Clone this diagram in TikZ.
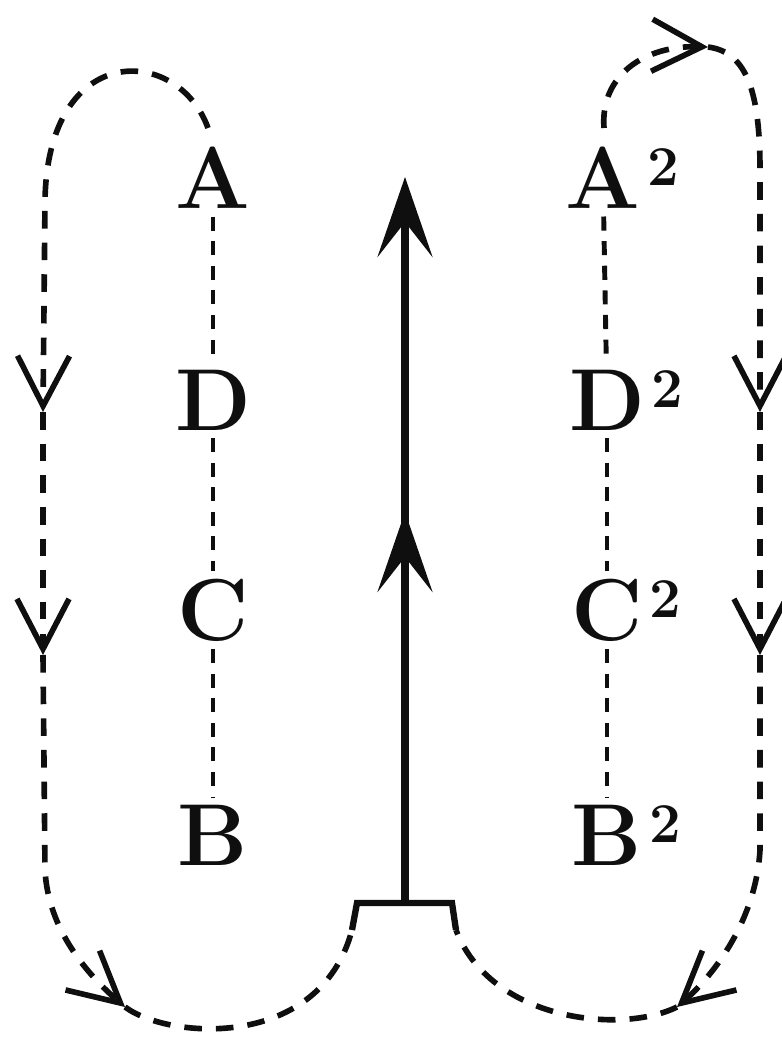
\documentclass[tikz,border=0pt]{standalone}
\usepackage{tikz}
\usetikzlibrary{arrows.meta}
\definecolor{inkBlack}{RGB}{15,15,15}
\tikzset{
    letter/.style={font=\fontsize{25}{30}\selectfont\bfseries, text=inkBlack, inner sep=2pt},
    chain/.style={draw=inkBlack, line width=1.4pt, dash pattern=on 4pt off 3pt},
    circuit/.style={draw=inkBlack, line width=1.6pt, dash pattern=on 5pt off 4pt},
    barb/.style={circuit, -{Straight Barb[length=5mm, width=5.2mm]}},
    shaft/.style={draw=inkBlack, line width=2pt, -{Stealth[length=8mm, width=5.5mm, inset=3.5mm]}},
    stand/.style={draw=inkBlack, line width=1.8pt}
}
\newcommand{\sqmark}{\rlap{\hspace{2pt}\raisebox{6.5pt}{\fontsize{16}{18}\selectfont\bfseries 2}}}

\begin{document}
\begin{tikzpicture}[x=0.01cm, y=-0.01cm]
  \useasboundingbox (0,0) rectangle (782,1042);

  % Left chain
  \node[letter] (la) at (213,178) {A};
  \node[letter] (ld) at (213,400) {D};
  \node[letter] (lc) at (213,610) {C};
  \node[letter] (lb) at (213,835) {B};
  \draw[chain] (la) -- (ld);
  \draw[chain] (ld) -- (lc);
  \draw[chain] (lc) -- (lb);

  % Right chain
  \node[letter] (ra) at (603,178) {A\sqmark};
  \node[letter] (rd) at (607,400) {D\sqmark};
  \node[letter] (rc) at (607,610) {C\sqmark};
  \node[letter] (rb) at (607,835) {B\sqmark};
  \draw[chain] (ra) -- (rd);
  \draw[chain] (rd) -- (rc);
  \draw[chain] (rc) -- (rb);

  % Stand and central arrow
  \coordinate (bl) at (352,930);
  \coordinate (blt) at (357,903);
  \coordinate (brt) at (452,903);
  \coordinate (br) at (456,930);
  \coordinate (stem) at (405,903);
  \coordinate (mid) at (405,512);
  \coordinate (top) at (405,177);
  \draw[stand] (bl) -- (blt) -- (brt) -- (br);
  \draw[shaft] (stem) -- (top);
  \draw[shaft] (stem) -- (mid);

  % Left loop
  \coordinate (l0) at (208,128);
  \coordinate (l1) at (43,412);
  \coordinate (l2) at (43,655);
  \coordinate (l3) at (125,1007);
  \draw[barb] (l0) .. controls (178,45) and (48,40) .. (45,200) -- (l1);
  \draw[barb] (l1) -- (l2);
  \draw[barb] (l2) -- (45,870) .. controls (48,930) and (88,975) .. (l3);
  \draw[circuit] (l3) .. controls (170,1040) and (320,1050) .. (bl);

  % Right loop
  \coordinate (r0) at (604,128);
  \coordinate (rt) at (708,47);
  \coordinate (r1) at (760,412);
  \coordinate (r2) at (760,655);
  \coordinate (r3) at (677,1007);
  \draw[barb] (r0) .. controls (600,75) and (645,45) .. (rt);
  \draw[barb] (rt) .. controls (748,52) and (760,95) .. (760,170) -- (r1);
  \draw[barb] (r1) -- (r2);
  \draw[barb] (r2) -- (760,850) .. controls (756,920) and (714,975) .. (r3);
  \draw[circuit] (r3) .. controls (620,1035) and (490,1020) .. (br);
\end{tikzpicture}
\end{document}
